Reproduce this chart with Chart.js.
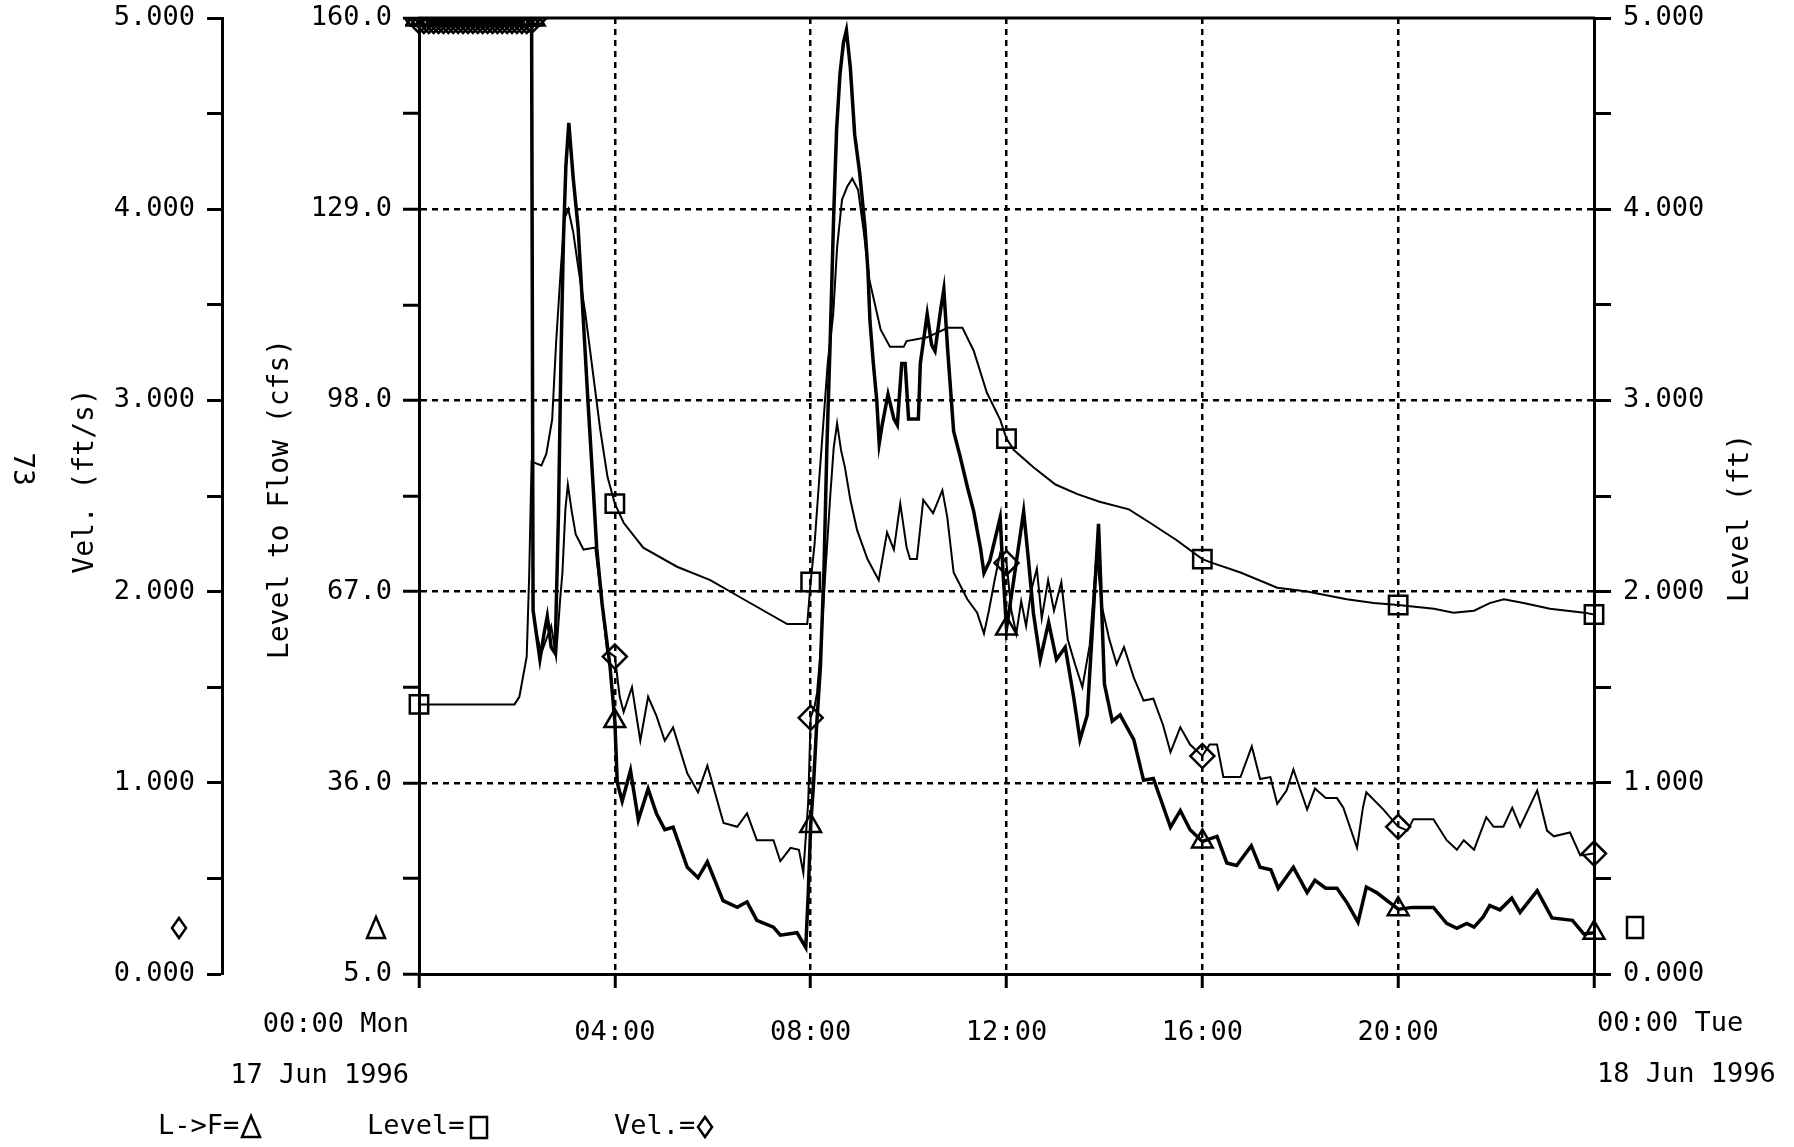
<!DOCTYPE html>
<html>
<head>
<meta charset="utf-8">
<title>Level to Flow - 17 Jun 1996</title>
<script src="https://cdn.jsdelivr.net/npm/chart.js@4.4.1/dist/chart.umd.min.js"></script>
<style>
  html, body { margin: 0; padding: 0; background: #fff; }
  canvas { display: block; }
</style>
</head>
<body>
<canvas id="flowChart" width="1794" height="1147"></canvas>
<script>
// Readings as [hours after 00:00 Mon 17 Jun 1996, value]

// Level to flow, cfs (left inner axis)
const flowSeries = [
  [0,160],[0.1,160],[0.2,160],[0.3,160],[0.4,160],[0.5,160],[0.6,160],[0.7,160],[0.8,160],[0.9,160],
  [1.0,160],[1.1,160],[1.2,160],[1.3,160],[1.4,160],[1.5,160],[1.6,160],[1.7,160],[1.8,160],[1.9,160],
  [2.0,160],[2.1,160],[2.2,160],[2.3,160],
  [2.33,64],[2.4,60],[2.47,56],[2.55,60],[2.62,63],[2.7,58],[2.78,57],[2.85,80],[2.9,105],[2.95,124],
  [3.0,136],[3.06,143],[3.15,134],[3.25,126],[3.35,112],[3.45,98],[3.55,85],[3.63,74],[3.74,65],[3.9,55],
  [4.0,46],[4.05,36],[4.15,33],[4.32,38],[4.48,30],[4.68,35],[4.85,31],[5.02,28.4],[5.19,28.8],[5.48,22.3],
  [5.7,20.6],[5.89,23.2],[6.21,16.9],[6.5,15.8],[6.7,16.7],[6.9,13.7],[7.24,12.6],[7.38,11.3],[7.72,11.7],
  [7.9,9.3],[7.95,18],
  [8.0,29],[8.06,36],[8.12,45],[8.2,55],[8.27,70],[8.33,90],[8.4,108],[8.47,128],[8.53,142],[8.6,151],
  [8.67,156],[8.73,158],[8.81,152],[8.9,141],[9.0,135],[9.11,126],[9.17,119],[9.21,111],[9.28,104],
  [9.35,98],[9.4,91],[9.46,94],[9.58,99],[9.7,95],[9.77,94],[9.86,104],[9.93,104],
  [10.0,95],[10.2,95],[10.24,104],[10.38,112],[10.47,107],[10.54,106],[10.66,113],[10.72,116],[10.8,106],
  [10.92,93],[11.05,89],[11.2,84],[11.33,80],[11.47,74],[11.54,70],[11.66,72],[11.75,75],[11.87,79],[11.93,70],
  [12.0,61],[12.15,69],[12.35,80],[12.45,72],[12.55,63.5],[12.69,56],[12.86,62],[13.02,56],[13.2,58],
  [13.37,50],[13.5,43],[13.65,47],[13.77,63],[13.88,78],[13.95,63],[14.0,52],[14.16,46],[14.32,47],
  [14.6,43],[14.8,36.4],[15.0,36.7],[15.35,28.8],[15.55,31.5],[15.75,28.4],
  [16.0,26.5],[16.3,27.3],[16.5,23],[16.7,22.6],[17.0,25.8],[17.18,22.3],[17.4,21.9],[17.55,18.9],
  [17.86,22.3],[18.14,18.2],[18.3,20.2],[18.52,18.9],[18.75,18.9],[18.96,16.5],[19.18,13.4],[19.35,19.1],
  [19.56,18.2],
  [20.0,15.5],[20.3,15.8],[20.72,15.8],[20.99,13.2],[21.2,12.4],[21.4,13.2],[21.55,12.6],[21.74,14.3],
  [21.87,16.1],[22.08,15.4],[22.32,17.3],[22.49,15.0],[22.84,18.5],[23.14,14.1],[23.56,13.7],[23.79,11.5],
  [24.0,11.7]
];

// Level, ft (right axis)
const levelSeries = [
  [0,1.41],[1.95,1.41],[2.05,1.45],[2.2,1.66],[2.25,2.08],[2.3,2.68],[2.5,2.66],[2.6,2.72],[2.72,2.9],
  [2.8,3.3],[2.9,3.7],[2.97,3.95],[3.05,4.0],[3.15,3.88],[3.25,3.7],[3.4,3.45],[3.55,3.15],[3.7,2.85],
  [3.85,2.6],[4.0,2.46],[4.18,2.36],[4.58,2.23],[5.27,2.13],[5.95,2.06],[6.63,1.96],[7.52,1.83],[7.93,1.83],
  [8.0,2.05],[8.08,2.25],[8.15,2.5],[8.25,2.85],[8.35,3.2],[8.46,3.45],[8.54,3.8],[8.64,4.05],[8.75,4.12],
  [8.85,4.16],[8.97,4.1],[9.08,3.89],[9.2,3.63],[9.43,3.37],[9.62,3.28],[9.9,3.28],[9.96,3.31],[10.38,3.33],
  [10.8,3.38],[11.1,3.38],[11.33,3.26],[11.6,3.04],[11.87,2.9],[12.0,2.8],[12.15,2.74],[12.55,2.65],
  [13.0,2.56],[13.45,2.51],[13.9,2.47],[14.5,2.43],[14.93,2.36],[15.47,2.27],[16.0,2.17],[16.2,2.15],
  [16.78,2.1],[17.53,2.02],[18.14,2.0],[18.95,1.96],[19.5,1.94],[20.0,1.93],[20.73,1.91],[21.13,1.89],
  [21.55,1.9],[21.87,1.94],[22.16,1.96],[22.56,1.94],[23.1,1.91],[23.8,1.89],[24.0,1.88]
];

// Velocity, ft/s (left outer axis)
const velSeries = [
  [0,5],[0.1,5],[0.2,5],[0.3,5],[0.4,5],[0.5,5],[0.6,5],[0.7,5],[0.8,5],[0.9,5],
  [1.0,5],[1.1,5],[1.2,5],[1.3,5],[1.4,5],[1.5,5],[1.6,5],[1.7,5],[1.8,5],[1.9,5],
  [2.0,5],[2.1,5],[2.2,5],[2.3,5],
  [2.33,1.9],[2.4,1.78],[2.5,1.68],[2.6,1.75],[2.7,1.82],[2.8,1.66],[2.88,1.95],[2.93,2.1],[2.99,2.43],
  [3.04,2.56],[3.12,2.42],[3.2,2.3],[3.36,2.22],[3.6,2.23],[3.74,1.94],[3.84,1.69],
  [4.0,1.66],[4.1,1.45],[4.18,1.37],[4.35,1.5],[4.52,1.22],[4.68,1.45],[4.85,1.35],[5.02,1.22],[5.19,1.29],
  [5.48,1.05],[5.7,0.95],[5.89,1.09],[6.22,0.79],[6.5,0.77],[6.7,0.84],[6.9,0.7],[7.24,0.7],[7.38,0.59],
  [7.59,0.66],[7.76,0.65],[7.85,0.53],[7.95,0.9],
  [8.0,1.34],[8.08,1.4],[8.13,1.47],[8.2,1.68],[8.3,2.1],[8.4,2.5],[8.47,2.75],[8.54,2.88],[8.62,2.74],
  [8.7,2.65],[8.81,2.48],[8.95,2.32],[9.16,2.17],[9.39,2.06],[9.56,2.31],[9.7,2.22],[9.83,2.46],[9.96,2.23],
  [10.03,2.17],[10.17,2.17],[10.3,2.48],[10.5,2.41],[10.69,2.53],[10.79,2.39],[10.92,2.1],[11.2,1.96],
  [11.4,1.89],[11.54,1.78],[11.64,1.9],[11.75,2.05],[11.87,2.2],
  [12.0,2.15],[12.1,1.9],[12.2,1.78],[12.3,1.95],[12.4,1.82],[12.5,2.0],[12.62,2.12],[12.72,1.86],
  [12.85,2.06],[12.97,1.9],[13.12,2.05],[13.25,1.75],[13.4,1.62],[13.55,1.5],[13.7,1.72],[13.84,2.2],
  [13.95,1.92],[14.1,1.75],[14.25,1.62],[14.4,1.71],[14.6,1.55],[14.8,1.43],[15.0,1.44],[15.2,1.3],
  [15.35,1.16],[15.55,1.29],[15.75,1.2],
  [16.0,1.14],[16.15,1.2],[16.3,1.2],[16.43,1.03],[16.78,1.03],[17.01,1.19],[17.18,1.02],[17.39,1.03],
  [17.53,0.89],[17.72,0.96],[17.86,1.07],[18.14,0.86],[18.3,0.97],[18.52,0.92],[18.75,0.92],[18.88,0.87],
  [19.16,0.66],[19.28,0.87],[19.35,0.95],[19.7,0.86],
  [20.0,0.77],[20.19,0.75],[20.31,0.81],[20.72,0.81],[20.99,0.7],[21.2,0.65],[21.34,0.7],[21.55,0.65],
  [21.8,0.82],[21.95,0.77],[22.15,0.77],[22.33,0.87],[22.49,0.77],[22.84,0.96],[23.04,0.75],[23.18,0.72],
  [23.51,0.74],[23.72,0.62],[24.0,0.63]
];

// symbols are plotted every 4 hours, and on every reading while the meter is off scale
const markerHours = [0, 4, 8, 12, 16, 20, 24];
const offScaleUntil = 2.31;

// axis ticks
const hourTicks = [0, 4, 8, 12, 16, 20, 24];
const hourLabels = ['', '04:00', '08:00', '12:00', '16:00', '20:00', ''];
const flowTicks = [5, 20.5, 36, 51.5, 67, 82.5, 98, 113.5, 129, 144.5, 160];
const flowLabelled = [5, 36, 67, 98, 129, 160];
const ftTicks = [0, 0.5, 1, 1.5, 2, 2.5, 3, 3.5, 4, 4.5, 5];

const FONT_FAMILY = '"DejaVu Sans Mono", "Liberation Mono", monospace';
const FONT_SIZE = 27;
const TITLE_SIZE = 28;

Chart.defaults.font.family = FONT_FAMILY;
Chart.defaults.font.size = FONT_SIZE;
Chart.defaults.color = '#000';

const toPoints = (series) => series.map(([x, y]) => ({x, y}));

function markerSize(withOffScale, big) {
  return (ctx) => {
    const p = ctx.raw;
    if (!p) return 0;
    if (markerHours.includes(p.x) && !(withOffScale && p.x < offScaleUntil)) return big;
    return withOffScale && p.x < offScaleUntil ? 15 : 0;
  };
}

const fixedTicks = (values) => (scale) => {
  scale.ticks = values.map(value => ({value}));
};

// fixed box size, and no extra room for labels hanging past the ends
const fixedWidth = (w) => (s) => {
  s.width = w;
  s.paddingTop = 0;
  s.paddingBottom = 0;
};
const fixedHeight = (h) => (s) => {
  s.height = h;
  s.paddingLeft = 0;
  s.paddingRight = 0;
};

const markerClip = {left: 14, top: 0, right: 14, bottom: 14};

// Lettering, the top frame line and the axis symbols
const decorations = {
  id: 'decorations',
  afterDraw(chart) {
    const {ctx, chartArea: area, scales} = chart;
    const midY = (area.top + area.bottom) / 2;
    ctx.save();

    ctx.strokeStyle = '#000';
    ctx.lineWidth = 3;
    ctx.beginPath();
    ctx.moveTo(area.left - 1, area.top);
    ctx.lineTo(area.right + 1, area.top);
    ctx.stroke();

    ctx.fillStyle = '#000';
    ctx.textBaseline = 'middle';

    const rotated = (text, x, y, angle) => {
      ctx.save();
      ctx.translate(x, y);
      ctx.rotate(angle);
      ctx.textAlign = 'center';
      ctx.fillText(text, 0, 0);
      ctx.restore();
    };
    ctx.font = TITLE_SIZE + 'px ' + FONT_FAMILY;
    rotated('Vel. (ft/s)', scales.vel.left + 86, midY - 15, -Math.PI / 2);
    rotated('Level to Flow (cfs)', scales.flow.left + 59, midY + 3, -Math.PI / 2);
    rotated('Level (ft)', scales.lvl.right - 53, midY + 22, -Math.PI / 2);
    rotated('73', 21, midY - 27, Math.PI / 2);

    ctx.font = FONT_SIZE + 'px ' + FONT_FAMILY;
    // dates under the first and last time ticks
    const x0 = scales.x.getPixelForValue(0);
    const x24 = scales.x.getPixelForValue(24);
    ctx.textAlign = 'right';
    ctx.fillText('00:00 Mon', x0 - 10, area.bottom + 51);
    ctx.fillText('17 Jun 1996', x0 - 10, area.bottom + 102);
    ctx.textAlign = 'left';
    ctx.fillText('00:00 Tue', x24 + 3, area.bottom + 50);
    ctx.fillText('18 Jun 1996', x24 + 3, area.bottom + 101);

    // key
    const keyY = area.bottom + 153;
    ctx.fillText('L->F=', 158, keyY);
    ctx.fillText('Level=', 367, keyY);
    ctx.fillText('Vel.=', 614, keyY);

    ctx.lineWidth = 2.5;
    const triangle = (x, y) => {
      ctx.beginPath();
      ctx.moveTo(x, y - 11);
      ctx.lineTo(x + 9, y + 10);
      ctx.lineTo(x - 9, y + 10);
      ctx.closePath();
      ctx.stroke();
    };
    const square = (x, y) => ctx.strokeRect(x - 8, y - 10, 16, 21);
    const diamond = (x, y) => {
      ctx.beginPath();
      ctx.moveTo(x, y - 10);
      ctx.lineTo(x + 7, y);
      ctx.lineTo(x, y + 10);
      ctx.lineTo(x - 7, y);
      ctx.closePath();
      ctx.stroke();
    };
    triangle(251, keyY);
    square(479, keyY);
    diamond(705, keyY);

    // symbol beside each axis
    diamond(scales.vel.left + 179, area.bottom - 46);
    triangle(area.left - 43, area.bottom - 46);
    square(area.right + 41, area.bottom - 47);

    ctx.restore();
  }
};

new Chart(document.getElementById('flowChart'), {
  type: 'line',
  data: {
    datasets: [
      {
        label: 'L->F',
        data: toPoints(flowSeries),
        yAxisID: 'flow',
        borderColor: '#000',
        borderWidth: 3.5,
        pointStyle: 'triangle',
        pointRadius: markerSize(true, 12),
        pointBorderColor: '#000',
        pointBorderWidth: 2.5,
        pointBackgroundColor: 'rgba(0,0,0,0)',
        clip: markerClip
      },
      {
        label: 'Level',
        data: toPoints(levelSeries),
        yAxisID: 'lvl',
        borderColor: '#000',
        borderWidth: 2,
        pointStyle: 'rect',
        pointRadius: markerSize(false, 13),
        pointBorderColor: '#000',
        pointBorderWidth: 2.5,
        pointBackgroundColor: 'rgba(0,0,0,0)',
        clip: markerClip
      },
      {
        label: 'Vel.',
        data: toPoints(velSeries),
        yAxisID: 'vel',
        borderColor: '#000',
        borderWidth: 2,
        pointStyle: 'rectRot',
        pointRadius: markerSize(true, 12),
        pointBorderColor: '#000',
        pointBorderWidth: 2.5,
        pointBackgroundColor: 'rgba(0,0,0,0)',
        clip: markerClip
      }
    ]
  },
  options: {
    responsive: false,
    animation: false,
    events: [],
    layout: { padding: { top: 18, left: 0, right: 0, bottom: 0 } },
    plugins: { legend: { display: false }, tooltip: { enabled: false } },
    elements: { line: { tension: 0 } },
    scales: {
      x: {
        type: 'linear',
        min: 0,
        max: 24,
        afterBuildTicks: fixedTicks(hourTicks),
        afterFit: fixedHeight(173),
        ticks: {
          autoSkip: false,
          maxRotation: 0,
          padding: 29,
          callback: (value) => hourLabels[hourTicks.indexOf(value)] ?? ''
        },
        grid: {
          color: (c) => (c.tick && (c.tick.value === 0 || c.tick.value === 24)) ? 'rgba(0,0,0,0)' : '#000',
          lineWidth: 2.5,
          tickColor: '#000',
          tickWidth: 3,
          tickLength: 14
        },
        border: { display: true, color: '#000', width: 3, dash: [6, 5] }
      },
      vel: {
        type: 'linear',
        position: 'left',
        weight: 1,
        min: 0,
        max: 5,
        afterBuildTicks: fixedTicks(ftTicks),
        afterFit: fixedWidth(222),
        ticks: {
          padding: 12,
          callback: (value) => Number.isInteger(value) ? value.toFixed(3) : ''
        },
        grid: {
          drawOnChartArea: false,
          tickColor: '#000',
          tickWidth: 3,
          tickLength: 15
        },
        border: { display: true, color: '#000', width: 3 }
      },
      flow: {
        type: 'linear',
        position: 'left',
        weight: 0,
        min: 5,
        max: 160,
        afterBuildTicks: fixedTicks(flowTicks),
        afterFit: fixedWidth(197),
        ticks: {
          padding: 11,
          callback: (value) => flowLabelled.includes(value) ? value.toFixed(1) : ''
        },
        grid: {
          color: (c) => (c.tick && flowLabelled.includes(c.tick.value) && c.tick.value !== 5 && c.tick.value !== 160) ? '#000' : 'rgba(0,0,0,0)',
          lineWidth: 2.5,
          tickColor: '#000',
          tickWidth: 3,
          tickLength: 16
        },
        border: { display: true, color: '#000', width: 3, dash: [6, 5] }
      },
      lvl: {
        type: 'linear',
        position: 'right',
        min: 0,
        max: 5,
        afterBuildTicks: fixedTicks(ftTicks),
        afterFit: fixedWidth(200),
        ticks: {
          padding: 12,
          callback: (value) => Number.isInteger(value) ? value.toFixed(3) : ''
        },
        grid: {
          drawOnChartArea: false,
          tickColor: '#000',
          tickWidth: 3,
          tickLength: 17
        },
        border: { display: true, color: '#000', width: 3 }
      }
    }
  },
  plugins: [decorations]
});
</script>
</body>
</html>
